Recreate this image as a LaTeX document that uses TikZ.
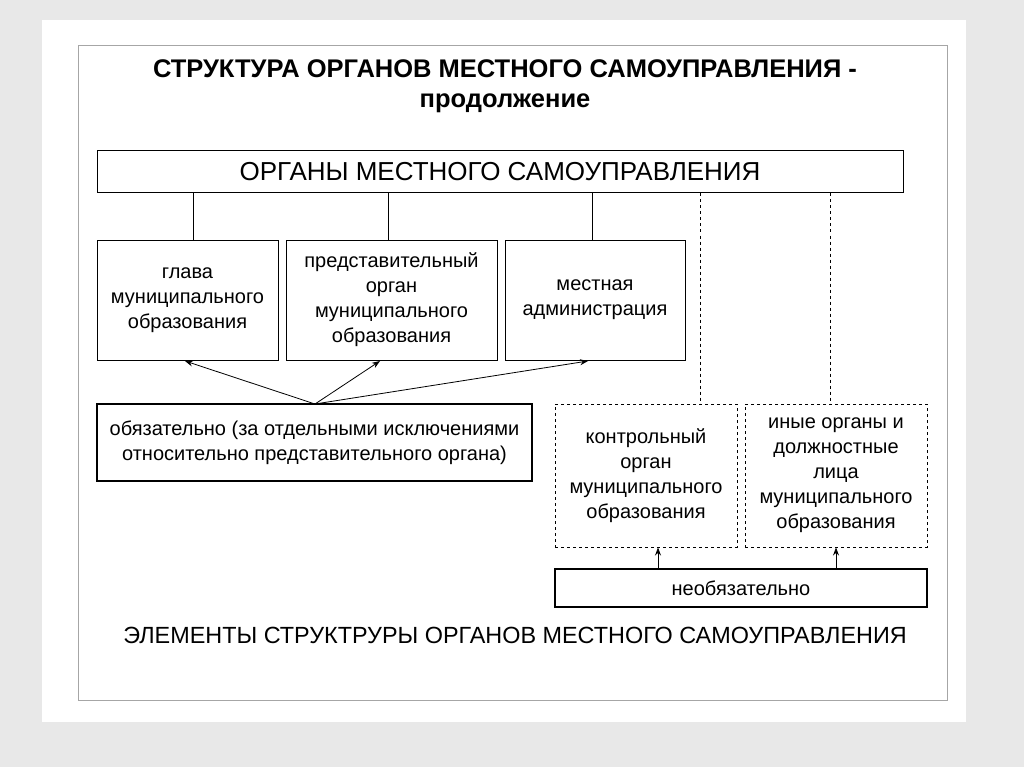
\documentclass[tikz,border=0pt]{standalone}
\usepackage{fontspec}
\setmainfont{Liberation Sans}
\usetikzlibrary{arrows.meta}
\begin{document}
\begin{tikzpicture}[x=1pt,y=-1pt,
  bx/.style={draw,line width=1pt,align=center,inner sep=0pt,font=\fontsize{20}{25}\selectfont},
  ar/.style={-{Stealth[length=8pt,width=6pt]},line width=0.8pt}]
\fill[gray!18] (0,0) rectangle (1024,767);
\fill[white] (42,20) rectangle (966,722);
\useasboundingbox (0,0) rectangle (1024,767);
\draw[gray!70] (78,45) rectangle (947,700);
\node[font=\bfseries\fontsize{25.5}{30}\selectfont,align=center] (title) at (505,86) {СТРУКТУРА ОРГАНОВ МЕСТНОГО САМОУПРАВЛЕНИЯ -\\продолжение};
\node[bx,minimum width=806,minimum height=42,font=\fontsize{26}{30}\selectfont] (top) at (500,172) {ОРГАНЫ МЕСТНОГО САМОУПРАВЛЕНИЯ};
\node[bx,minimum width=181,minimum height=120] (g) at (187.5,300) {глава\\муниципального\\образования};
\node[bx,minimum width=211,minimum height=120] (p) at (391.5,300) {представительный\\орган\\муниципального\\образования};
\node[bx,minimum width=180,minimum height=120] (m) at (595,300) {местная\\администрация};
\node[bx,line width=2.2pt,minimum width=435,minimum height=77] (ob) at (314.5,442.5) {обязательно (за отдельными исключениями\\относительно представительного органа)};
\node[bx,dashed,minimum width=182,minimum height=143] (k) at (646,475.5) {контрольный\\орган\\муниципального\\образования};
\node[bx,dashed,minimum width=182,minimum height=143] (i) at (836,475.5) {иные органы и\\должностные\\лица\\муниципального\\образования};
\node[bx,line width=2.2pt,minimum width=372,minimum height=38] (n) at (741,588) {необязательно};
\node[font=\fontsize{23.4}{27}\selectfont] (el) at (515,635) {ЭЛЕМЕНТЫ СТРУКТРУРЫ ОРГАНОВ МЕСТНОГО САМОУПРАВЛЕНИЯ};
\draw[line width=1pt] (top.south -| 193,0) -- (g.north -| 193,0);
\draw[line width=1pt] (top.south -| 388,0) -- (p.north -| 388,0);
\draw[line width=1pt] (top.south -| 592,0) -- (m.north -| 592,0);
\draw[line width=1pt,dashed] (top.south -| 700,0) -- (k.north -| 700,0);
\draw[line width=1pt,dashed] (top.south -| 830,0) -- (i.north -| 830,0);
\coordinate (o) at (315,404);
\draw[ar] (o) -- (185,361);
\draw[ar] (o) -- (380,361);
\draw[ar] (o) -- (588,361);
\draw[ar] (n.north -| 658,0) -- (k.south -| 658,0);
\draw[ar] (n.north -| 836,0) -- (i.south -| 836,0);
\end{tikzpicture}
\end{document}
